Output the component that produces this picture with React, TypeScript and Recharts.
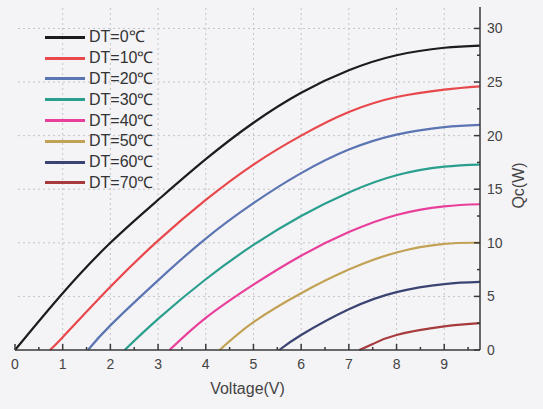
import { LineChart, Line, XAxis, YAxis, ReferenceLine, Legend } from 'recharts';

// Qc vs voltage for each temperature difference
const dt0V = [0, 1, 2, 3, 4, 5, 6, 7, 8, 9, 9.75];
const dt0Q = [0, 5.3, 10.0, 14.0, 17.8, 21.2, 24.0, 26.1, 27.5, 28.2, 28.4];
const dt10V = [0.73, 1, 2, 3, 4, 5, 6, 7, 8, 9, 9.75];
const dt10Q = [0, 1.2, 5.9, 10.2, 14.0, 17.3, 20.0, 22.2, 23.6, 24.3, 24.6];
const dt20V = [1.53, 2, 3, 4, 5, 6, 7, 8, 9, 9.75];
const dt20Q = [0, 2.3, 6.5, 10.4, 13.7, 16.5, 18.7, 20.1, 20.8, 21.0];
const dt30V = [2.3, 3, 4, 5, 6, 7, 8, 9, 9.75];
const dt30Q = [0, 2.9, 6.6, 9.8, 12.5, 14.7, 16.3, 17.1, 17.3];
const dt40V = [3.24, 4, 5, 6, 7, 8, 9, 9.75];
const dt40Q = [0, 3.0, 6.1, 8.8, 11.0, 12.6, 13.4, 13.6];
const dt50V = [4.29, 5, 6, 7, 8, 9, 9.75];
const dt50Q = [0, 2.6, 5.3, 7.5, 9.1, 9.9, 10.0];
const dt60V = [5.54, 6, 7, 8, 9, 9.75];
const dt60Q = [0, 1.4, 3.8, 5.4, 6.15, 6.35];
const dt70V = [7.22, 7.5, 8, 9, 9.75];
const dt70Q = [0, 0.55, 1.4, 2.2, 2.5];

const seriesNames = ['DT=0℃', 'DT=10℃', 'DT=20℃', 'DT=30℃', 'DT=40℃', 'DT=50℃', 'DT=60℃', 'DT=70℃'];
const seriesColors = ['#1c1c1c', '#e8484c', '#5b74b2', '#2b9f8e', '#e83f9b', '#c2a255', '#3a4472', '#a63a3c'];
const seriesV = [dt0V, dt10V, dt20V, dt30V, dt40V, dt50V, dt60V, dt70V];
const seriesQ = [dt0Q, dt10Q, dt20Q, dt30Q, dt40Q, dt50Q, dt60Q, dt70Q];

const xTicks = [0, 0.5, 1, 1.5, 2, 2.5, 3, 3.5, 4, 4.5, 5, 5.5, 6, 6.5, 7, 7.5, 8, 8.5, 9, 9.5];
const yTicks = [0, 2.5, 5, 7.5, 10, 12.5, 15, 17.5, 20, 22.5, 25, 27.5, 30];
const xGrid = [1, 2, 3, 4, 5, 6, 7, 8, 9];
const yGrid = [5, 10, 15, 20, 25, 30];

const FONT = '"Liberation Sans", Arial, sans-serif';
const AXIS = '#3a3a3a';

const series = seriesNames.map((name, i) => ({
  name,
  color: seriesColors[i],
  data: seriesV[i].map((v, j) => ({ v, q: seriesQ[i][j] })),
}));

function XTick(props: any) {
  const { x, y, payload } = props;
  const major = Number.isInteger(payload.value);
  const axisY = y - 9;
  return (
    <g>
      <line x1={x} x2={x} y1={axisY} y2={axisY - (major ? 6 : 3)} stroke={AXIS} strokeWidth={1.5} />
      {major && (
        <text x={x} y={axisY + 19} textAnchor="middle" fontSize={14} fill="#444" fontFamily={FONT}>
          {payload.value}
        </text>
      )}
    </g>
  );
}

function YTick(props: any) {
  const { x, y, payload } = props;
  const major = payload.value % 5 === 0;
  const axisX = x - 7;
  return (
    <g>
      <line x1={axisX} x2={axisX - (major ? 6 : 3)} y1={y} y2={y} stroke={AXIS} strokeWidth={1.5} />
      {major && (
        <text x={x} y={y + 5} textAnchor="start" fontSize={14} fill="#444" fontFamily={FONT}>
          {payload.value}
        </text>
      )}
    </g>
  );
}

function LegendBox() {
  return (
    <div style={{ fontFamily: FONT }}>
      {series.map((s) => (
        <div key={s.name} style={{ display: 'flex', alignItems: 'center', height: 20.8 }}>
          <div style={{ width: 40, height: 3, background: s.color, marginRight: 4 }} />
          <span style={{ fontSize: 16, color: '#333', lineHeight: '16px' }}>{s.name}</span>
        </div>
      ))}
    </div>
  );
}

export default function App() {
  return (
    <div style={{ position: 'absolute', left: 0, top: 0, background: '#f4f3f6' }}>
      <LineChart width={543} height={409} margin={{ top: 7, right: 23, bottom: 9, left: 15 }}>
        <XAxis
          dataKey="v"
          type="number"
          domain={[0, 9.75]}
          ticks={xTicks}
          interval={0}
          allowDuplicatedCategory={false}
          height={50}
          tickSize={0}
          tickMargin={9}
          tick={<XTick />}
          stroke={AXIS}
          strokeWidth={1.5}
          label={{ value: 'Voltage(V)', position: 'insideBottom', offset: 6, fontSize: 16, fill: '#444', fontFamily: FONT }}
        />
        <XAxis xAxisId="top" orientation="top" type="number" domain={[0, 9.75]} height={0} tick={false} tickLine={false} stroke={AXIS} strokeWidth={1.5} />
        <YAxis
          orientation="right"
          type="number"
          domain={[0, 32]}
          ticks={yTicks}
          interval={0}
          width={40}
          tickSize={0}
          tickMargin={7}
          tick={<YTick />}
          stroke={AXIS}
          strokeWidth={1.5}
          label={{
            content: (p: any) => {
              const vb = p.viewBox;
              const cx = vb.x + 38;
              const cy = vb.y + vb.height / 2 + 7;
              return (
                <text x={cx} y={cy} textAnchor="middle" dominantBaseline="central" transform={`rotate(-90, ${cx}, ${cy})`} fontSize={16} fill="#444" fontFamily={FONT}>
                  Qc(W)
                </text>
              );
            },
          }}
        />
        <YAxis yAxisId="left" orientation="left" type="number" domain={[0, 32]} width={0} tick={false} tickLine={false} stroke={AXIS} strokeWidth={1.5} />
        {xGrid.map((g) => (
          <ReferenceLine key={`x${g}`} x={g} stroke="#c4c4c8" strokeDasharray="2 3" />
        ))}
        {yGrid.map((g) => (
          <ReferenceLine key={`y${g}`} y={g} stroke="#c4c4c8" strokeDasharray="2 3" />
        ))}
        {series.map((s) => (
          <Line
            key={s.name}
            data={s.data}
            dataKey="q"
            name={s.name}
            type="natural"
            stroke={s.color}
            strokeWidth={2.2}
            dot={false}
            isAnimationActive={false}
          />
        ))}
        <Legend
          verticalAlign="middle"
          align="center"
          layout="vertical"
          wrapperStyle={{ top: 27, left: 45, width: 'auto', height: 'auto' }}
          content={() => <LegendBox />}
        />
      </LineChart>
    </div>
  );
}
